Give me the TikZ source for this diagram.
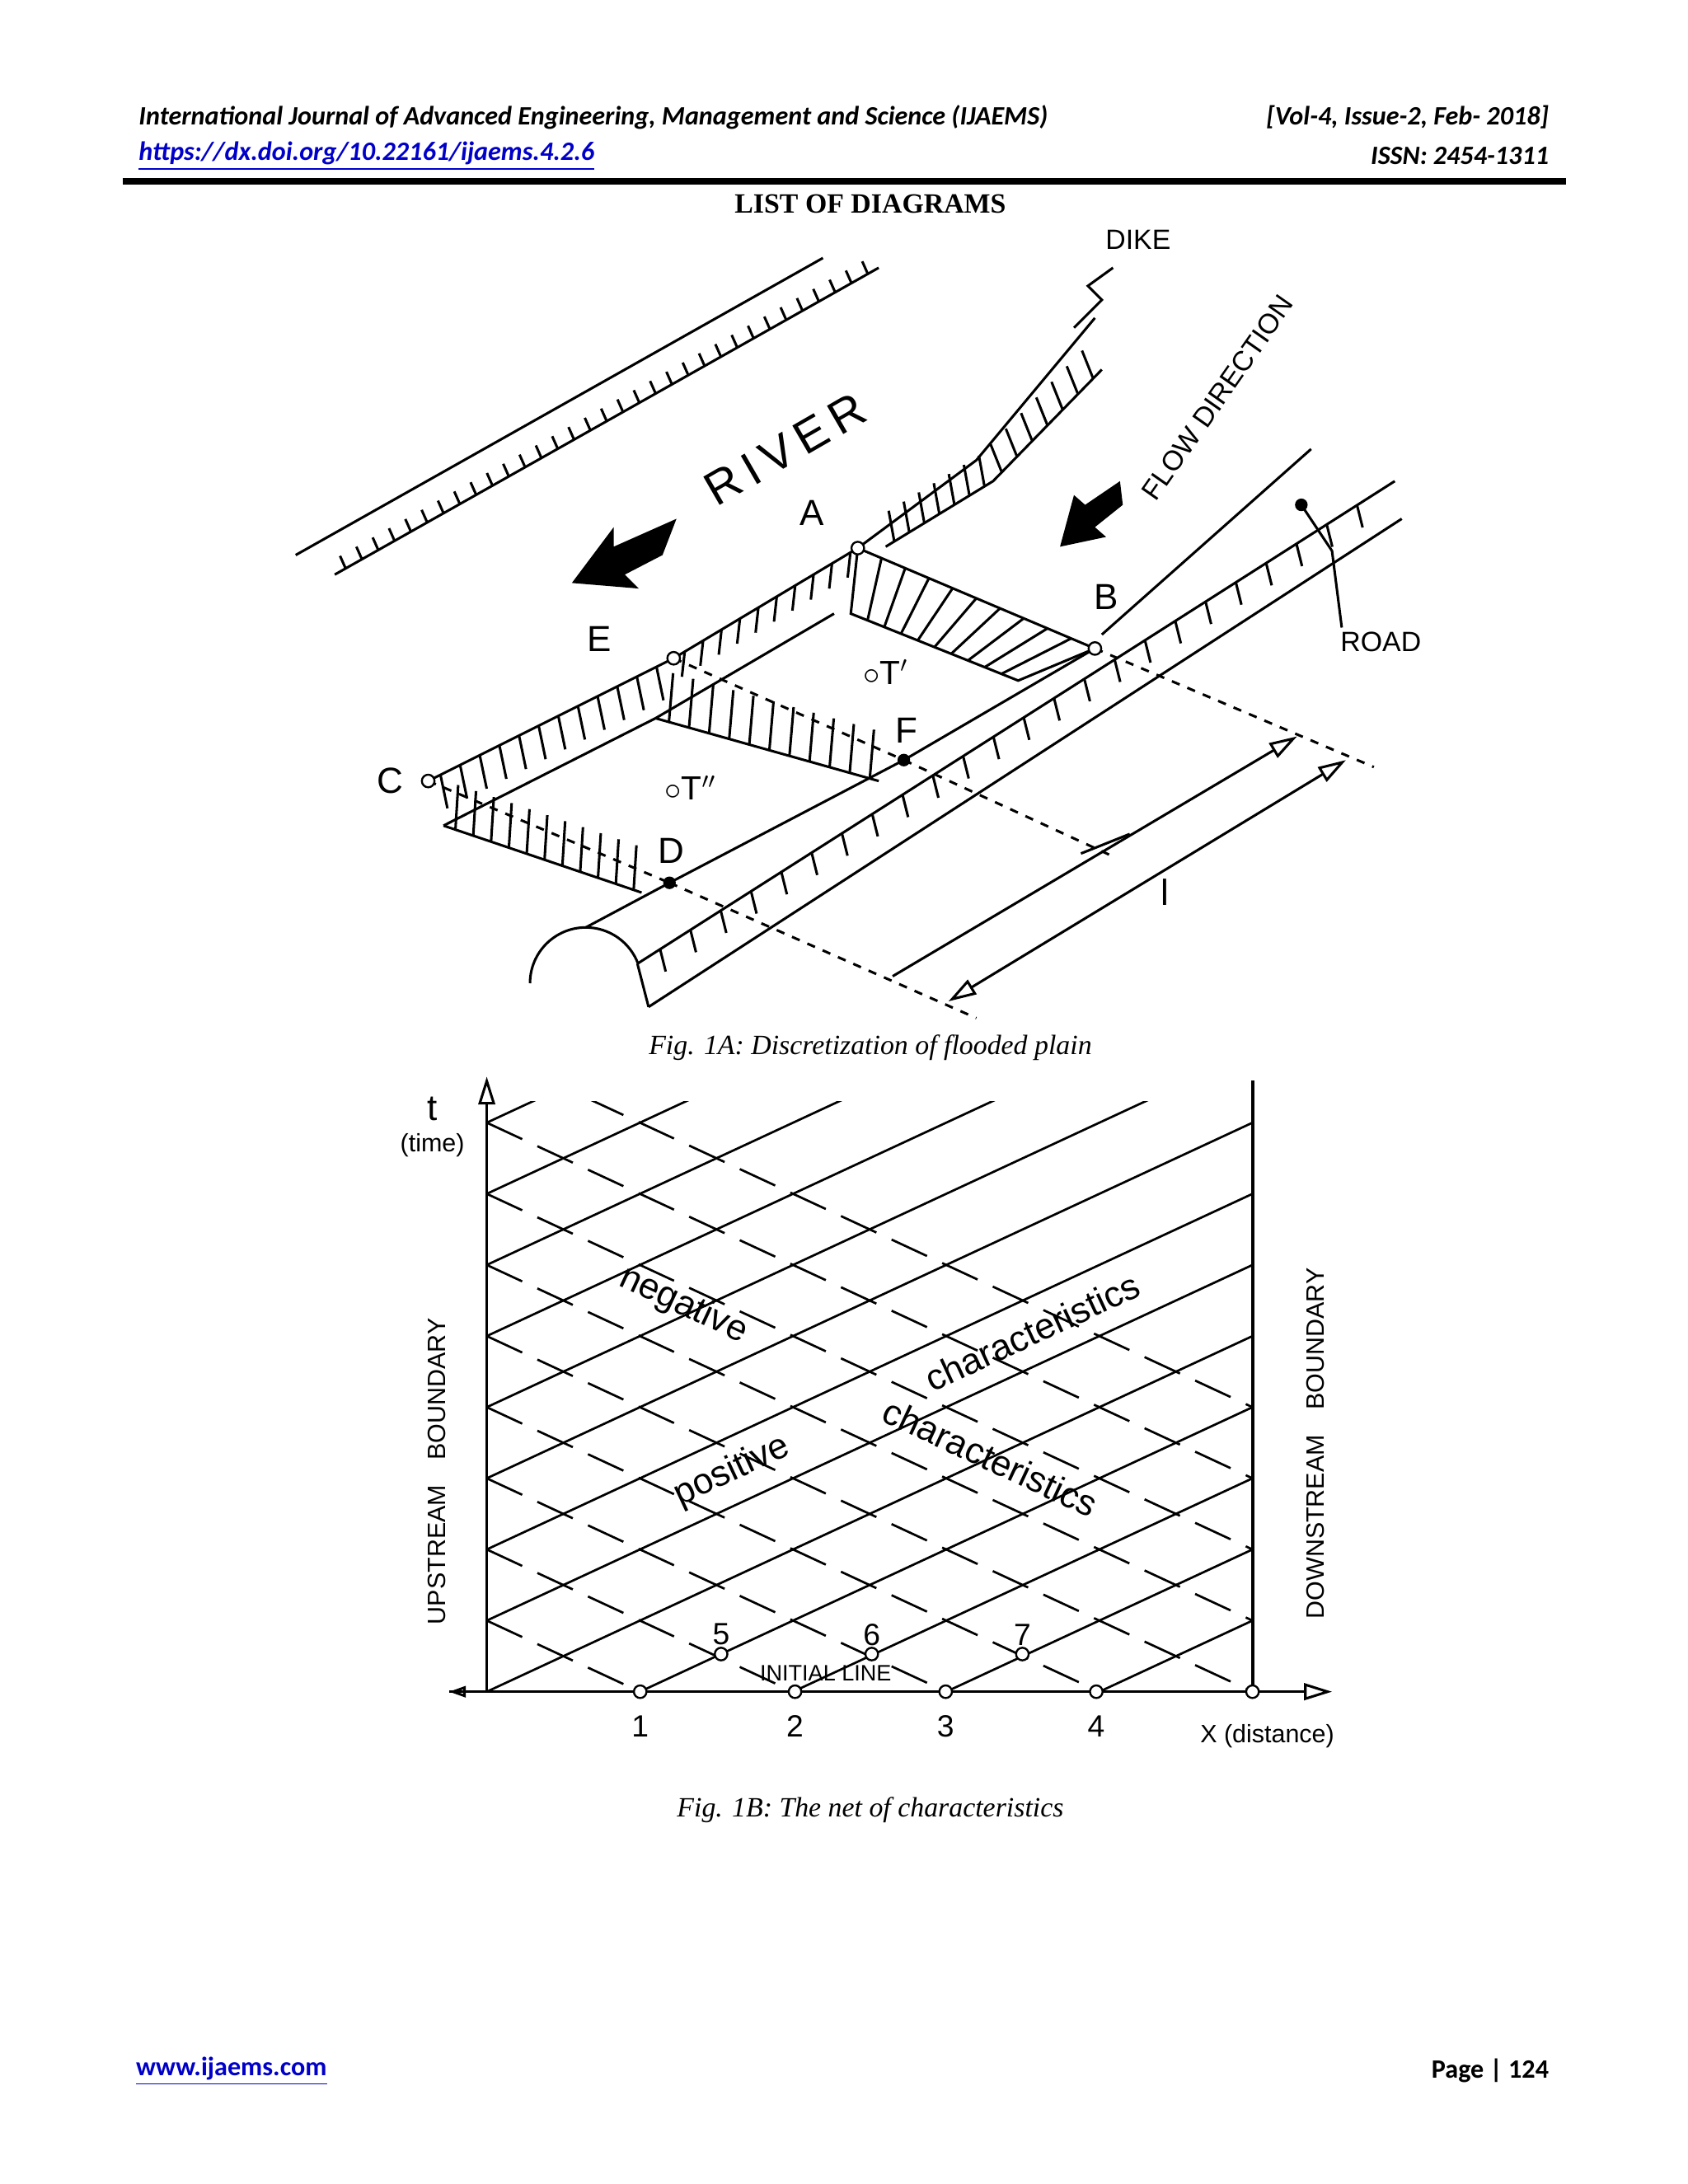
\documentclass[tikz,border=0pt]{standalone}
\usepackage{fontspec}
\setmainfont{Liberation Serif}
\newfontfamily\hdr{Carlito}
\newfontfamily\lab{Liberation Sans}
\usetikzlibrary{calc,arrows.meta}
\definecolor{lnk}{RGB}{0,0,200}
\begin{document}
\begin{tikzpicture}[x=0.5pt,y=-0.5pt,line width=0.9pt,
  lb/.style={font=\lab\fontsize{13}{13}\selectfont},
  sm/.style={font=\lab\fontsize{8}{8}\selectfont},
  figcap/.style={font=\itshape\fontsize{10}{12}\selectfont},
  hd/.style={font=\hdr\bfseries\itshape\fontsize{9.5}{11}\selectfont},
  pt/.style={circle,draw,fill=white,inner sep=1.6pt,line width=0.7pt},
  dpt/.style={circle,fill=black,inner sep=1.6pt}]
\useasboundingbox (0,0) rectangle (1210,1566);
% header
\node[hd,anchor=west] (h1) at (92,84) {International Journal of Advanced Engineering, Management and Science (IJAEMS)};
\node[hd,anchor=east] (h2) at (1118,84) {[Vol-4, Issue-2, Feb- 2018]};
\node[hd,anchor=west,text=lnk] (h3) at (92,112) {\underline{https://dx.doi.org/10.22161/ijaems.4.2.6}};
\node[hd,anchor=east] (h4) at (1118,112) {ISSN: 2454-1311};
\draw[line width=2.2pt] (88,130) -- (1123,130);
\node[font=\bfseries\fontsize{10}{12}\selectfont] (lod) at (624,146) {LIST OF DIAGRAMS};
% ---------- Fig 1A ----------
\draw (212,398) -- (590,185);
\draw (240,412) -- (630,192);
\foreach \t in {0.02,0.05,...,0.99} \draw ($(240,412)!\t!(630,192)$) -- ++(-4,-9);
\coordinate (C) at (307,560); \coordinate (E) at (483,472); \coordinate (A) at (615,393);
\coordinate (B) at (785,465); \coordinate (D) at (480,633); \coordinate (F) at (648,545);
\draw (C) -- (E) -- (A) -- (700,330) -- (785,228);
\draw (318,592) -- (470,515) -- (598,440);
\foreach \t in {0.05,0.13,...,0.99} \draw ($(C)!\t!(E)$) -- ++(5,24);
\foreach \t in {0.06,0.16,...,0.99} \draw ($(E)!\t!(A)$) -- ++(-2,18);
\draw (635,392) -- (712,345) -- (790,265);
\foreach \t in {0.08,0.22,...,0.99} \draw ($(635,392)!\t!(712,345)$) -- ++(-4,-22);
\foreach \t in {0.08,0.22,...,0.99} \draw ($(712,345)!\t!(790,265)$) -- ++(-8,-20);
\draw (A) -- (B);
\draw (A) -- (610,440) -- (730,488) -- (B);
\foreach \t in {0.1,0.2,...,0.95} \draw ($(A)!\t!(B)$) -- ($(610,440)!\t!(730,488)$);
\draw (B) ++(5,-10) -- (940,322);
\draw (380,705) arc[start angle=180,end angle=340,radius=40];
\draw (420,665) -- (D) -- (F) -- (B);
\draw (457,691) -- (1000,345);
\draw (465,722) -- (1005,372);
\draw (457,691) -- (465,722);
\foreach \t in {0.03,0.07,...,0.99} \draw ($(457,691)!\t!(1000,345)$) -- ++(4,16);
\draw[dashed] (E) -- (F);
\draw (470,515) -- (630,560);
\foreach \t in {0.06,0.15,...,0.99} \draw ($(470,515)!\t!(630,560)$) -- ++(3,-35);
\draw[dashed] (C) -- (D);
\draw (318,592) -- (460,640);
\foreach \t in {0.06,0.15,...,0.99} \draw ($(318,592)!\t!(460,640)$) -- ++(2,-32);
\draw[dashed] (B) -- (985,550);
\draw[dashed] (F) -- (800,615);
\draw[dashed] (D) -- (700,730);
\draw[-{Triangle[open,length=10pt,width=6pt]}] (640,700) -- (930,528);
\draw[{Triangle[open,length=10pt,width=6pt]}-{Triangle[open,length=10pt,width=6pt]}] (680,718) -- (965,545);
\draw (775,612) -- (810,598);
\node[lb] (ll) at (835,640) {l};
\node[pt] (Cp) at (C) {}; \node[pt] (Ep) at (E) {}; \node[pt] (Ap) at (A) {};
\node[pt] (Bp) at (B) {}; \node[dpt] (Dp) at (D) {}; \node[dpt] (Fp) at (F) {};
\node[dpt] (rp) at (933,362) {}; \draw (933,362) -- (955,395) -- (962,450);
\draw (770,235) -- (790,215) -- (780,205) -- (798,192);
\node[lb] at (280,560) {C}; \node[lb] at (481,610) {D}; \node[lb] at (430,458) {E};
\node[lb] at (650,524) {F}; \node[lb] at (582,368) {A}; \node[lb] at (793,428) {B};
\node[lb,font=\lab\fontsize{12}{12}\selectfont] at (635,482) {$\circ$T$'$};
\node[lb,font=\lab\fontsize{12}{12}\selectfont] at (495,565) {$\circ$T$''$};
\node[sm,font=\lab\fontsize{10}{10}\selectfont] at (816,172) {DIKE};
\node[sm,font=\lab\fontsize{10}{10}\selectfont] at (990,460) {ROAD};
\node[lb,font=\lab\fontsize{17}{17}\selectfont,rotate=30] at (563,322) {R\,I\,V\,E\,R};
\node[sm,font=\lab\fontsize{10}{10}\selectfont,rotate=55] at (873,285) {FLOW DIRECTION};
\fill (410,418) -- (440,378) -- (440,392) -- (485,372) -- (475,398) -- (448,412) -- (458,422) -- cycle;
\fill (760,392) -- (770,355) -- (778,362) -- (803,345) -- (805,362) -- (785,378) -- (793,385) -- cycle;
\node[figcap] (c1) at (624,751) {Fig. 1A: Discretization of flooded plain};
% ---------- Fig 1B ----------
\begin{scope}
\clip (349,790) rectangle (898,1213);
\foreach \m in {-9,...,5} \draw[line width=0.8pt] (349,{1213+51*\m}) -- (898,{1213+51*\m-255});
\foreach \m in {-4,...,9} \draw[line width=0.8pt,dash pattern=on 14pt off 6pt] (349,{1213-51*\m}) -- (898,{1213-51*\m+255});
\end{scope}
\draw[-{Triangle[open,length=10pt,width=6pt]}] (349,1213) -- (349,772);
\draw[-{Triangle[open,length=10pt,width=6pt]}] (322,1213) -- (955,1213);
\draw[{Triangle[open,length=6pt,width=4pt]}-] (322,1213) -- (349,1213);
\draw[line width=1.2pt] (898,775) -- (898,1213);
\foreach \x/\l in {459/1,570/2,678/3,786/4} {\node[pt] at (\x,1213) {}; \node[lb,font=\lab\fontsize{11}{11}\selectfont] at (\x,1238) {\l};}
\node[pt] at (898,1213) {};
\foreach \x/\l in {517/5,625/6,733/7} {\node[pt] at (\x,1186) {}; \node[lb,font=\lab\fontsize{11}{11}\selectfont] at (\x,1172) {\l};}
\node[sm] at (592,1200) {INITIAL LINE};
\node[lb] at (310,795) {t};
\node[sm,font=\lab\fontsize{9}{9}\selectfont] at (310,821) {(time)};
\node[sm,font=\lab\fontsize{9}{9}\selectfont,anchor=west] at (853,1245) {X (distance)};
\node[sm,font=\lab\fontsize{9}{9}\selectfont,rotate=90] at (313,1055) {UPSTREAM\quad BOUNDARY};
\node[sm,font=\lab\fontsize{9}{9}\selectfont,rotate=90] at (943,1035) {DOWNSTREAM\quad BOUNDARY};
\node[lb,rotate=-25] at (490,936) {negative};
\node[lb,rotate=25] at (740,955) {characteristics};
\node[lb,rotate=25] at (525,1055) {positive};
\node[lb,rotate=-25] at (710,1045) {characteristics};
\node[figcap] (c2) at (624,1298) {Fig. 1B: The net of characteristics};
\node[font=\hdr\bfseries\fontsize{9.5}{11}\selectfont,text=lnk,anchor=west] at (90,1485) {\underline{www.ijaems.com}};
\node[font=\hdr\bfseries\fontsize{9.5}{11}\selectfont,anchor=east] at (1118,1485) {Page \textbar\ 124};
\end{tikzpicture}
\end{document}
